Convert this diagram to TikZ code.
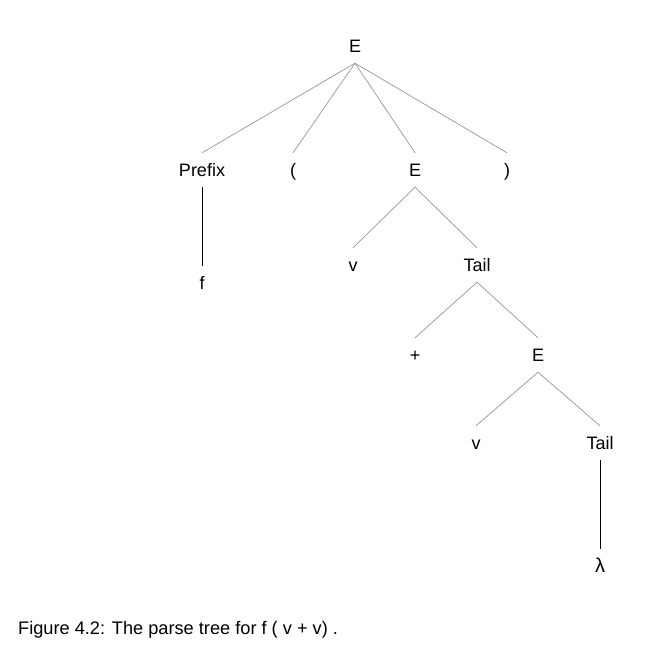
\documentclass[tikz,border=0pt]{standalone}
\usepackage{fontspec}
\setmainfont{Liberation Sans}
\begin{document}
\begin{tikzpicture}[x=1pt,y=-1pt]
\definecolor{branchgray}{RGB}{150,150,150}
\tikzset{sym/.style={font=\fontsize{18}{21}\selectfont, text height=13pt, text depth=0pt, inner xsep=2pt, inner ysep=10.5pt},
  branch/.style={branchgray, line width=0.7pt},
  stem/.style={black, line width=0.8pt}}
\useasboundingbox (0,0) rectangle (668,656);
\node[sym] (root) at (355,46) {E};
\node[sym] (prefix) at (202,170) {Prefix};
\node[sym] (lpar) at (293,170) {(};
\node[sym] (inner) at (415,170) {E};
\node[sym] (rpar) at (507,170) {)};
\node[sym] (f) at (202,283) {f};
\node[sym] (v1) at (353,265) {v};
\node[sym] (tail1) at (477,265) {Tail};
\node[sym] (plus) at (415,355) {+};
\node[sym] (inner2) at (538,355) {E};
\node[sym] (v2) at (476,443) {v};
\node[sym] (tail2) at (600,443) {Tail};
\node[sym, font=\fontsize{20}{23}\selectfont] (lambda) at (600,566) {λ};
\draw[branch] (root.south) -- (prefix.north);
\draw[branch] (root.south) -- (lpar.north);
\draw[branch] (root.south) -- (inner.north);
\draw[branch] (root.south) -- (rpar.north);
\draw[stem] (prefix.south) -- (f.north);
\draw[branch] (inner.south) -- (v1.north);
\draw[branch] (inner.south) -- (tail1.north);
\draw[branch] (tail1.south) -- (plus.north);
\draw[branch] (tail1.south) -- (inner2.north);
\draw[branch] (inner2.south) -- (v2.north);
\draw[branch] (inner2.south) -- (tail2.north);
\draw[stem] (tail2.south) -- (lambda.north);
\node[font=\fontsize{18.2}{22}\selectfont, anchor=west, inner sep=0pt] (caption) at (18,630) {Figure 4.2: The parse tree for f ( v + v) .};
\end{tikzpicture}
\end{document}
